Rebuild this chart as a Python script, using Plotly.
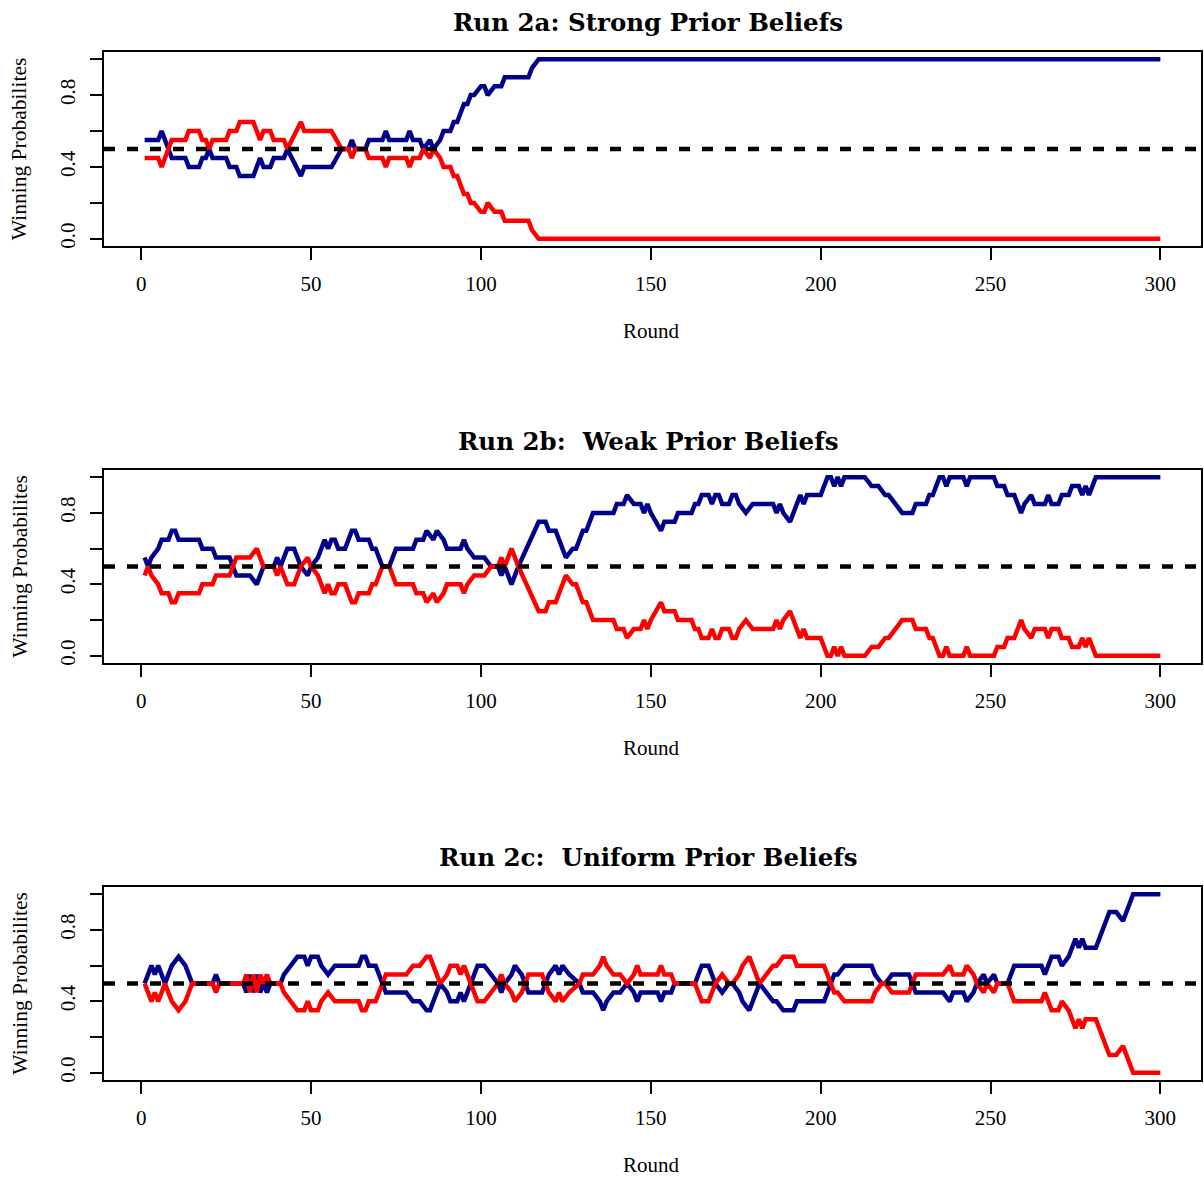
import plotly.graph_objects as go

# ---------------- data ----------------
rounds_a = [1, 5, 6, 7, 9, 13, 14, 17, 18, 19,
            20, 21, 25, 26, 28, 29, 33, 35, 36, 38,
            39, 42, 43, 47, 48, 56, 59, 61, 62, 63,
            66, 67, 71, 72, 73, 78, 79, 80, 82, 83,
            85, 86, 88, 89, 91, 92, 93, 94, 95, 96,
            97, 98, 100, 101, 102, 104, 106, 107, 114, 115,
            117, 300]
blue_a = [.55, .55, .60, .55, .45, .45, .40, .40, .45, .45,
          .50, .45, .45, .40, .40, .35, .35, .45, .40, .40,
          .45, .45, .50, .35, .40, .40, .50, .50, .55, .50,
          .50, .55, .55, .60, .55, .55, .60, .55, .55, .50,
          .55, .50, .55, .60, .60, .65, .65, .70, .75, .75,
          .80, .80, .85, .85, .80, .85, .85, .90, .90, .95,
          1.0, 1.0]
red_a = [.45, .45, .40, .45, .55, .55, .60, .60, .55, .55,
         .50, .55, .55, .60, .60, .65, .65, .55, .60, .60,
         .55, .55, .50, .65, .60, .60, .50, .50, .45, .50,
         .50, .45, .45, .40, .45, .45, .40, .45, .45, .50,
         .45, .50, .45, .40, .40, .35, .35, .30, .25, .25,
         .20, .20, .15, .15, .20, .15, .15, .10, .10, .05,
         0.0, 0.0]

rounds_b = [1, 2, 3, 5, 6, 8, 9, 10, 11, 17,
            18, 21, 22, 26, 27, 28, 32, 34, 36, 39,
            40, 41, 42, 43, 45, 46, 47, 49, 50, 52,
            54, 55, 56, 57, 58, 60, 62, 63, 64, 67,
            68, 69, 70, 71, 73, 74, 75, 80, 81, 83,
            84, 86, 87, 89, 90, 94, 95, 96, 98, 101,
            103, 105, 106, 107, 109, 111, 117, 119, 120, 122,
            123, 124, 125, 127, 128, 129, 130, 131, 132, 133,
            139, 140, 142, 143, 145, 147, 148, 149, 150, 153,
            154, 157, 158, 162, 163, 164, 165, 167, 168, 169,
            170, 171, 173, 174, 175, 176, 178, 180, 186, 187,
            188, 189, 191, 192, 193, 194, 195, 196, 200, 202,
            203, 204, 205, 206, 207, 213, 215, 217, 219, 220,
            222, 224, 227, 228, 231, 232, 233, 235, 236, 237,
            238, 242, 243, 244, 251, 252, 254, 255, 257, 259,
            260, 262, 263, 266, 267, 268, 270, 271, 273, 274,
            276, 277, 278, 279, 281, 300]
blue_b = [.55, .50, .55, .60, .65, .65, .70, .70, .65, .65,
          .60, .60, .55, .55, .50, .45, .45, .40, .50, .50,
          .55, .50, .55, .60, .60, .55, .50, .45, .50, .55,
          .65, .60, .65, .65, .60, .60, .70, .70, .65, .65,
          .60, .60, .55, .50, .50, .55, .60, .60, .65, .65,
          .70, .65, .70, .65, .60, .60, .65, .60, .55, .55,
          .50, .50, .45, .50, .40, .50, .75, .75, .70, .70,
          .65, .60, .55, .60, .60, .65, .70, .70, .75, .80,
          .80, .85, .85, .90, .85, .85, .80, .85, .80, .70,
          .75, .75, .80, .80, .85, .85, .90, .90, .85, .90,
          .90, .85, .85, .90, .90, .85, .80, .85, .85, .80,
          .85, .80, .75, .80, .85, .90, .85, .90, .90, 1.0,
          1.0, .95, 1.0, .95, 1.0, 1.0, .95, .95, .90, .90,
          .85, .80, .80, .85, .85, .90, .90, 1.0, 1.0, .95,
          1.0, 1.0, .95, 1.0, 1.0, .95, .95, .90, .90, .80,
          .85, .90, .85, .85, .90, .85, .85, .90, .90, .95,
          .95, .90, .95, .90, 1.0, 1.0]
red_b = [.45, .50, .45, .40, .35, .35, .30, .30, .35, .35,
         .40, .40, .45, .45, .50, .55, .55, .60, .50, .50,
         .45, .50, .45, .40, .40, .45, .50, .55, .50, .45,
         .35, .40, .35, .35, .40, .40, .30, .30, .35, .35,
         .40, .40, .45, .50, .50, .45, .40, .40, .35, .35,
         .30, .35, .30, .35, .40, .40, .35, .40, .45, .45,
         .50, .50, .55, .50, .60, .50, .25, .25, .30, .30,
         .35, .40, .45, .40, .40, .35, .30, .30, .25, .20,
         .20, .15, .15, .10, .15, .15, .20, .15, .20, .30,
         .25, .25, .20, .20, .15, .15, .10, .10, .15, .10,
         .10, .15, .15, .10, .10, .15, .20, .15, .15, .20,
         .15, .20, .25, .20, .15, .10, .15, .10, .10, 0.0,
         0.0, .05, 0.0, .05, 0.0, 0.0, .05, .05, .10, .10,
         .15, .20, .20, .15, .15, .10, .10, 0.0, 0.0, .05,
         0.0, 0.0, .05, 0.0, 0.0, .05, .05, .10, .10, .20,
         .15, .10, .15, .15, .10, .15, .15, .10, .10, .05,
         .05, .10, .05, .10, 0.0, 0.0]

rounds_c = [1, 3, 4, 5, 6, 7, 8, 9, 11, 13,
            14, 15, 21, 22, 23, 30, 31, 32, 33, 34,
            35, 36, 37, 38, 41, 42, 44, 46, 48, 49,
            50, 52, 53, 55, 57, 64, 65, 66, 67, 69,
            70, 71, 72, 78, 80, 82, 84, 85, 86, 88,
            90, 91, 93, 94, 95, 96, 98, 99, 101, 103,
            105, 106, 107, 109, 110, 112, 113, 114, 118, 119,
            120, 122, 123, 124, 126, 129, 130, 133, 135, 136,
            137, 139, 141, 143, 145, 146, 147, 152, 153, 154,
            156, 157, 163, 164, 165, 167, 168, 169, 171, 173,
            174, 176, 177, 179, 182, 184, 186, 187, 189, 192,
            193, 201, 202, 203, 204, 205, 207, 215, 216, 218,
            219, 221, 226, 228, 236, 238, 239, 242, 243, 245,
            246, 248, 249, 251, 252, 255, 257, 265, 266, 268,
            270, 271, 273, 275, 276, 277, 278, 281, 285, 287,
            289, 292, 300]
blue_c = [.50, .60, .55, .60, .55, .50, .55, .60, .65, .60,
          .55, .50, .50, .55, .50, .50, .45, .55, .45, .55,
          .45, .50, .45, .50, .50, .55, .60, .65, .65, .60,
          .65, .65, .60, .55, .60, .60, .65, .65, .60, .60,
          .55, .50, .45, .45, .40, .40, .35, .35, .40, .50,
          .45, .40, .40, .45, .40, .45, .55, .60, .60, .55,
          .50, .45, .50, .55, .60, .55, .50, .45, .45, .50,
          .55, .60, .55, .60, .55, .50, .45, .45, .40, .35,
          .40, .45, .45, .50, .45, .40, .45, .45, .40, .45,
          .45, .50, .50, .55, .60, .60, .55, .50, .45, .50,
          .50, .45, .40, .35, .50, .45, .40, .40, .35, .35,
          .40, .40, .45, .50, .55, .55, .60, .60, .55, .50,
          .50, .55, .55, .45, .45, .40, .45, .45, .40, .45,
          .50, .55, .50, .55, .50, .50, .60, .60, .55, .65,
          .65, .60, .65, .75, .70, .75, .70, .70, .90, .90,
          .85, 1.0, 1.0]
red_c = [.50, .40, .45, .40, .45, .50, .45, .40, .35, .40,
         .45, .50, .50, .45, .50, .50, .55, .45, .55, .45,
         .55, .50, .55, .50, .50, .45, .40, .35, .35, .40,
         .35, .35, .40, .45, .40, .40, .35, .35, .40, .40,
         .45, .50, .55, .55, .60, .60, .65, .65, .60, .50,
         .55, .60, .60, .55, .60, .55, .45, .40, .40, .45,
         .50, .55, .50, .45, .40, .45, .50, .55, .55, .50,
         .45, .40, .45, .40, .45, .50, .55, .55, .60, .65,
         .60, .55, .55, .50, .55, .60, .55, .55, .60, .55,
         .55, .50, .50, .45, .40, .40, .45, .50, .55, .50,
         .50, .55, .60, .65, .50, .55, .60, .60, .65, .65,
         .60, .60, .55, .50, .45, .45, .40, .40, .45, .50,
         .50, .45, .45, .55, .55, .60, .55, .55, .60, .55,
         .50, .45, .50, .45, .50, .50, .40, .40, .45, .35,
         .35, .40, .35, .25, .30, .25, .30, .30, .10, .10,
         .15, 0.0, 0.0]

panel_titles = ["Run 2a: Strong Prior Beliefs",
                "Run 2b:\u00a0 Weak Prior Beliefs",
                "Run 2c:\u00a0 Uniform Prior Beliefs"]
x_label = "Round"
y_label = "Winning Probabilites"
x_tick_vals = [0, 50, 100, 150, 200, 250, 300]
y_tick_vals = [0.0, 0.2, 0.4, 0.6, 0.8, 1.0]
y_tick_text = ["0.0", "", "0.4", "", "0.8", ""]
reference_level = 0.5

panels = [(rounds_a, blue_a, red_a),
          (rounds_b, blue_b, red_b),
          (rounds_c, blue_c, red_c)]

# ---------------- layout geometry (pixels) ----------------
W, H = 1204, 1177
ML, MR, MT, MB = 104, 1, 52, 97
PH = H - MT - MB
PW = W - ML - MR

def py(px):
    return (H - MB - px) / PH

def pxp(px):
    return (px - ML) / PW

boxes = [(52, 246), (470, 663), (887, 1080)]   # top, bottom of each plot box
title_y = [22, 441, 857]
xlab_y = [331, 748, 1165]

BLUE = "#00008B"
RED = "#FF0000"
SERIF = "Liberation Serif"
FS = 21

fig = go.Figure()
layout = dict(
    width=W, height=H,
    margin=dict(l=ML, r=MR, t=MT, b=MB, pad=0),
    paper_bgcolor="white", plot_bgcolor="white",
    showlegend=False,
    font=dict(family=SERIF, size=FS, color="black"),
    shapes=[], annotations=[],
)

for i, (rnd, blue, red) in enumerate(panels):
    k = "" if i == 0 else str(i + 1)
    top, bot = boxes[i]
    fig.add_trace(go.Scatter(x=rnd, y=blue, mode="lines",
                             line=dict(color=BLUE, width=4.5),
                             xaxis="x" + k, yaxis="y" + k, hoverinfo="skip"))
    fig.add_trace(go.Scatter(x=rnd, y=red, mode="lines",
                             line=dict(color=RED, width=4.5),
                             xaxis="x" + k, yaxis="y" + k, hoverinfo="skip"))
    layout["xaxis" + k] = dict(
        domain=[0, 1], anchor="y" + k, range=[-10.96, 311.96],
        tickvals=x_tick_vals, ticks="outside", ticklen=12, tickwidth=2,
        tickcolor="black", showline=True, linewidth=2, linecolor="black",
        mirror=True, showgrid=False, zeroline=False,
        tickfont=dict(family=SERIF, size=FS, color="black"),
        ticklabelstandoff=6,
    )
    layout["yaxis" + k] = dict(
        domain=[py(bot), py(top)], anchor="x" + k, range=[-0.04, 1.04],
        tickvals=y_tick_vals, ticktext=y_tick_text, tickangle=-90,
        ticks="outside", ticklen=12, tickwidth=2, tickcolor="black",
        showline=True, linewidth=2, linecolor="black", mirror=True,
        showgrid=False, zeroline=False,
        tickfont=dict(family=SERIF, size=FS, color="black"),
        ticklabelstandoff=7,
    )
    layout["shapes"].append(dict(
        type="line", xref="x" + k + " domain", x0=0, x1=1,
        yref="y" + k, y0=reference_level, y1=reference_level,
        line=dict(color="black", width=4.5, dash="11px,12px"), layer="above"))
    layout["annotations"].append(dict(
        text="<b>" + panel_titles[i] + "</b>", xref="paper", yref="paper",
        x=pxp(649), y=py(title_y[i]), xanchor="center", yanchor="middle",
        showarrow=False, font=dict(family="DejaVu Serif", size=24.5, color="black")))
    layout["annotations"].append(dict(
        text=x_label, xref="paper", yref="paper",
        x=pxp(652), y=py(xlab_y[i]), xanchor="center", yanchor="middle",
        showarrow=False, font=dict(family=SERIF, size=FS, color="black")))
    layout["annotations"].append(dict(
        text=y_label, xref="paper", yref="paper",
        x=pxp(19), y=py((top + bot) / 2), xanchor="center", yanchor="middle",
        textangle=-90, showarrow=False, font=dict(family=SERIF, size=21.5, color="black")))

fig.update_layout(**layout)
fig.write_html(
    "out.html",
    config={"displayModeBar": False, "staticPlot": True},
    post_script="document.body.style.margin='0';document.body.style.overflow='hidden';"
                "document.documentElement.style.overflow='hidden';",
)
